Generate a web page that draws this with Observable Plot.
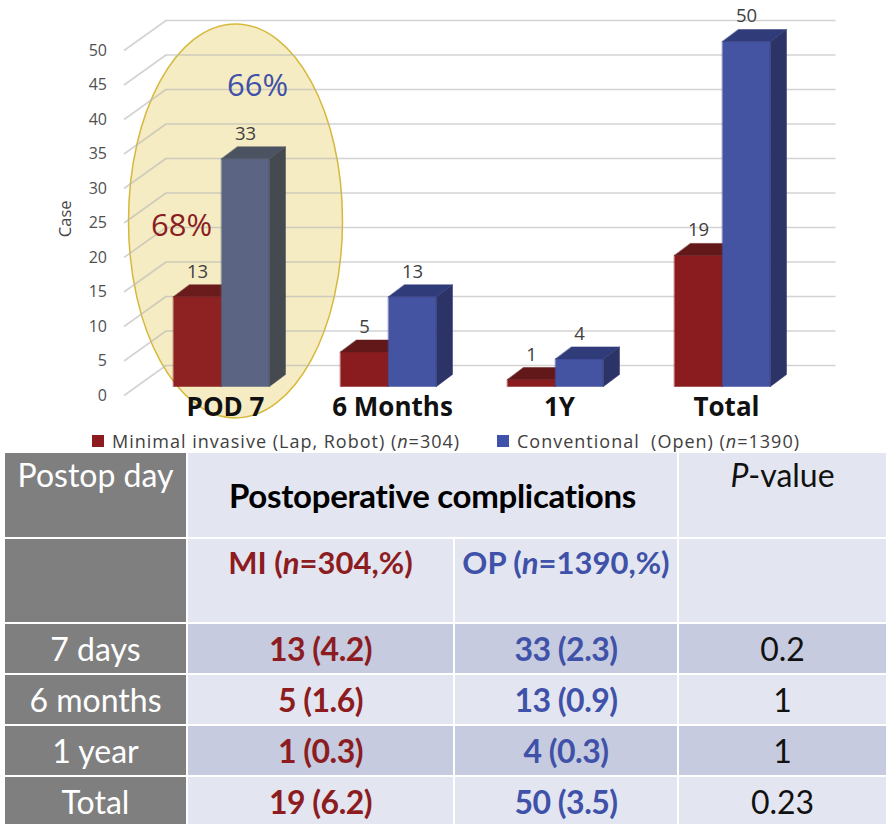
<!DOCTYPE html>
<html>
<head>
<meta charset="utf-8">
<script src="https://cdn.jsdelivr.net/npm/d3@7"></script>
<script src="https://cdn.jsdelivr.net/npm/@observablehq/plot@0.6"></script>
<style>
  html, body { margin: 0; padding: 0; background: #fff; }
  #wrap { position: relative; width: 886px; height: 824px; overflow: hidden; background: #fff; }
  #chart { position: absolute; left: 0; top: 0; }
  #legend { position: absolute; left: 0; top: 428px; width: 886px; height: 25px;
    font-family: "Open Sans", "Noto Sans", sans-serif; font-size: 18px; letter-spacing: 1px; color: #404040; }
  .lg-sw { position: absolute; top: 7px; width: 12px; height: 12px; }
  .lg-tx { position: absolute; top: 0px; line-height: 26px; white-space: pre; }
  #table { position: absolute; left: 5px; top: 453px; display: grid;
    grid-template-columns: 181px 265px 222px 207px;
    grid-template-rows: 84px 83px 49px 49px 49px 49px;
    gap: 2px; font-family: Lato, "Open Sans", sans-serif; }
  .c { display: flex; justify-content: center; align-items: center; font-size: 30px; }
  .grey { background: #7f7f7f; color: #fff; }
  .light { background: #e3e6f0; }
  .dark { background: #c6cbdf; }
  .top { align-items: flex-start; padding-top: 6px; box-sizing: border-box; }
  .mi { color: #8c1c1f; font-weight: bold; }
  .op { color: #3f51a8; font-weight: bold; }
  .pv { color: #111; }
</style>
</head>
<body>
<div id="wrap">
  <div id="chart"></div>
  <div id="legend"></div>
  <div id="table"></div>
</div>
<script>
// ---------- data ----------
const categories = ["POD 7", "6 Months", "1Y", "Total"];
const miCases = [13, 5, 1, 19];
const opCases = [33, 13, 4, 50];
const seriesLabels = ["Minimal invasive (Lap, Robot) (", "Conventional  (Open) ("];
const seriesN = [304, 1390];
const yTicks = [0, 5, 10, 15, 20, 25, 30, 35, 40, 45, 50];
const highlightCategory = "POD 7";
const pctLabels = [
  {series: "MI", text: "68%", at: 23.2},
  {series: "OP", text: "66%", at: 43.6}
];

const rowLabels = ["7 days", "6 months", "1 year", "Total"];
const miPct = ["4.2", "1.6", "0.3", "6.2"];
const opPct = ["2.3", "0.9", "0.3", "3.5"];
const pValues = ["0.2", "1", "1", "0.23"];

// ---------- styling / projection ----------
const xRange = [137.5, 805.5], yRange = [386, 6.5];
const xDomain = [0, categories.length], yDomain = [0, 55];
const kx = (xRange[1] - xRange[0]) / (xDomain[1] - xDomain[0]);
const ky = (yRange[0] - yRange[1]) / (yDomain[1] - yDomain[0]);
const px = p => p / kx;   // pixels -> x units
const py = p => p / ky;   // pixels -> y units
const BW = px(48);        // bar width
const DX = px(16), DY = py(12); // bar depth
const GF = {x: px(-14), y: py(-9)};  // grid front plane
const GB = {x: px(28), y: py(21)};   // grid back plane

const palette = {
  MI:   {front: "#8a1c20", side: "#5a1214", top: "#621819"},
  OP:   {front: "#4553a3", side: "#2c3367", top: "#303b7a"},
  OPhl: {front: "#5b6583", side: "#454a50", top: "#4b5262"},
  MIhl: {front: "#8e2121", side: "#5a1214", top: "#6a1c1c"}
};
const mi = "#8c1c1f", op = "#3f51a8";

const bars = categories.flatMap((c, i) => [
  {i, c, s: "MI", v: miCases[i]},
  {i, c, s: "OP", v: opCases[i]}
]);
const x1 = b => b.s === "MI" ? b.i + 0.5 - BW : b.i + 0.5;
const x2 = b => x1(b) + BW;
const pal = b => palette[b.s + (b.c === highlightCategory ? "hl" : "")];

// faces as polygons in data space, painter's order
const faces = [];
bars.forEach((b, k) => {
  const a = x1(b), e = x2(b), v = b.v, p = pal(b);
  const push = (name, pts, col) => pts.forEach(([x, y]) => faces.push({id: k + name, x, y, col}));
  push("f", [[a, 0], [e, 0], [e, v], [a, v]], p.front);
  push("s", [[e, 0], [e + DX, DY], [e + DX, v + DY], [e, v]], p.side);
  push("t", [[a, v], [e, v], [e + DX, v + DY], [a + DX, v + DY]], p.top);
});

// ellipse symbol for highlight
const ellipse = {
  draw(ctx) {
    const rx = 107, ry = 197, k = 0.5523;
    ctx.moveTo(rx, 0);
    ctx.bezierCurveTo(rx, ry * k, rx * k, ry, 0, ry);
    ctx.bezierCurveTo(-rx * k, ry, -rx, ry * k, -rx, 0);
    ctx.bezierCurveTo(-rx, -ry * k, -rx * k, -ry, 0, -ry);
    ctx.bezierCurveTo(rx * k, -ry, rx, -ry * k, rx, 0);
    ctx.closePath();
  }
};
const hiIndex = categories.indexOf(highlightCategory);

const plot = Plot.plot({
  width: 886,
  height: 428,
  x: {domain: xDomain, range: xRange, axis: null},
  y: {domain: yDomain, range: yRange, axis: null},
  style: {fontFamily: "'Open Sans', 'Noto Sans', sans-serif", background: "transparent", overflow: "visible"},
  marks: [
    Plot.dot([hiIndex], {x: d => d + 0.5, y: 24, dx: 14, symbol: ellipse, r: 10,
      fill: "#f5ecc4", stroke: "#d6b93c", strokeWidth: 1.5}),
    Plot.ruleY(yTicks, {y: d => d + GB.y, x1: xDomain[0] + GB.x, x2: xDomain[1] + px(30),
      stroke: "#b5b5b5", strokeOpacity: 0.6, strokeWidth: 1.6}),
    Plot.link(yTicks, {x1: xDomain[0] + GF.x, y1: d => d + GF.y, x2: xDomain[0] + GB.x, y2: d => d + GB.y,
      stroke: "#b5b5b5", strokeOpacity: 0.6, strokeWidth: 1.6}),
    Plot.text(yTicks, {x: xDomain[0], y: d => d + GF.y, dx: -31, text: d => String(d),
      textAnchor: "end", fontSize: 16, fill: "#505050"}),
    Plot.text(["Case"], {x: xDomain[0] - px(72), y: 24.3, rotate: -90, text: d => d, fontSize: 16.5, fill: "#444"}),
    Plot.line(faces, {x: "x", y: "y", z: "id", fill: "col", stroke: "col", strokeWidth: 0.5, curve: "linear-closed"}),
    Plot.text(bars, {x: b => x1(b) + BW / 2, y: "v", dy: -25, text: b => String(b.v), fontSize: 18.5, fill: "#404040"}),
    Plot.text(pctLabels, {x: d => d.series === "MI" ? hiIndex + 0.5 - BW / 2 - px(16) : hiIndex + 0.5 + BW / 2 + px(12),
      y: "at", text: "text", fontSize: 31, fill: d => d.series === "MI" ? mi : op}),
    Plot.text(categories, {x: (d, i) => i + 0.5, y: 0, dy: 21, dx: 4, text: d => d,
      fontSize: 26, fontWeight: "bold", fill: "#111"})
  ]
});
document.getElementById("chart").appendChild(plot);

// legend
const legend = document.getElementById("legend");
const swatchLeft = [92, 497];
[mi, op].forEach((col, i) => {
  const sw = document.createElement("div");
  sw.className = "lg-sw"; sw.style.left = swatchLeft[i] + "px"; sw.style.background = col;
  legend.appendChild(sw);
  const tx = document.createElement("div");
  tx.className = "lg-tx"; tx.style.left = (swatchLeft[i] + 20) + "px";
  tx.innerHTML = seriesLabels[i] + "<i>n</i>=" + seriesN[i] + ")";
  legend.appendChild(tx);
});

// table
const table = document.getElementById("table");
function cell(html, cls, style) {
  const d = document.createElement("div");
  d.className = "c " + cls; d.innerHTML = html;
  if (style) Object.assign(d.style, style);
  table.appendChild(d);
}
cell("Postop day", "grey top", {fontSize: "32px", paddingTop: "2px"});
cell("Postoperative complications", "light", {gridColumn: "2 / span 2", fontWeight: "bold", color: "#000", fontSize: "33px", letterSpacing: "-0.3px"});
cell("<i>P</i>-value", "light top pv", {fontSize: "32px", paddingTop: "2px"});
cell("", "grey");
cell("MI (<i>n</i>=304,%)", "light top mi", {paddingTop: "4px", fontSize: "31px"});
cell("OP (<i>n</i>=1390,%)", "light top op", {paddingTop: "4px", fontSize: "31px"});
cell("", "light");
rowLabels.forEach((r, i) => {
  const bg = i % 2 === 0 ? "dark" : "light";
  cell(r, "grey", {fontSize: "32px"});
  cell(`${miCases[i]} (${miPct[i]})`, bg + " mi", {fontSize: "32px", letterSpacing: "-0.5px"});
  cell(`${opCases[i]} (${opPct[i]})`, bg + " op", {fontSize: "32px", letterSpacing: "-0.5px"});
  cell(pValues[i], bg + " pv", {fontSize: "32px"});
});
</script>
</body>
</html>
